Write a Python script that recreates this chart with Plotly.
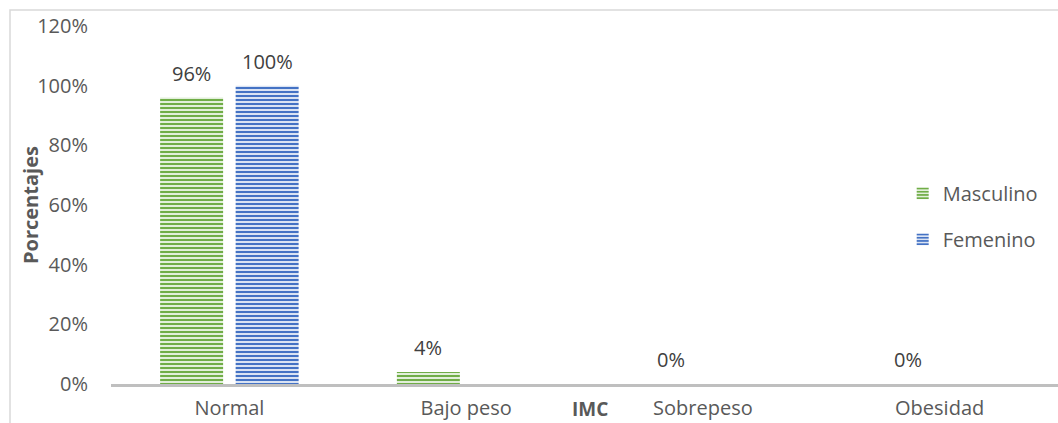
import plotly.graph_objects as go

# IMC categories and share of each group (fractions)
categorias = ["Normal", "Bajo peso", "Sobrepeso", "Obesidad"]
masculino = [0.96, 0.04, 0.00, 0.00]
femenino = [1.00, None, None, None]
y_ticks = [0, 0.2, 0.4, 0.6, 0.8, 1.0, 1.2]
y_ticklabels = ["0%", "20%", "40%", "60%", "80%", "100%", "120%"]

W, H = 1058, 423
M_L, M_R, M_T, M_B = 111, 0, 26, 39
BARGAP, GROUPGAP = 0.362, 0.166

FONT = "Open Sans"
GRAY = "#595959"
LABEL = "#404040"

series = [
    ("Masculino", masculino, "#70ad47", "#e2efda"),
    ("Femenino", femenino, "#4472c4", "#dae3f3"),
]

fig = go.Figure()
for i, (name, vals, fg, bg) in enumerate(series):
    fig.add_trace(go.Bar(
        name=name, x=categorias, y=vals, legendgroup=name,
        marker=dict(color=bg, line=dict(width=0),
                    pattern=dict(shape="-", fgcolor=fg, bgcolor=bg,
                                 size=4, solidity=0.5, fillmode="replace")),
        hoverinfo="skip",
    ))

# value labels placed over each bar slot
plot_w = W - M_L - M_R
plot_h = H - M_T - M_B
slot_px = plot_w / len(categorias) * (1 - BARGAP) / len(series)
annotations = []
for i, (name, vals, fg, bg) in enumerate(series):
    shift = (i - (len(series) - 1) / 2) * slot_px
    for cat, v in zip(categorias, vals):
        if v is None:
            continue
        annotations.append(dict(
            x=cat, y=v, xref="x", yref="y", text=f"{v:.0%}",
            showarrow=False, xanchor="center", yanchor="bottom",
            xshift=shift + (6 if v == 0 else 0), yshift=9,
            font=dict(family=FONT, size=20, color=LABEL),
        ))

# axis titles
annotations.append(dict(
    x=0.5, y=0, xref="paper", yref="paper", text="<b>IMC</b>",
    showarrow=False, xanchor="center", yanchor="middle",
    xshift=5, yshift=-25, font=dict(family=FONT, size=19, color=GRAY),
))
annotations.append(dict(
    x=(30 - M_L) / plot_w, y=0.5, xref="paper", yref="paper",
    text="<b>Porcentajes</b>", textangle=-90,
    showarrow=False, xanchor="center", yanchor="middle",
    font=dict(family=FONT, size=20, color=GRAY),
))

fig.update_layout(
    width=W, height=H,
    margin=dict(l=M_L, r=M_R, t=M_T, b=M_B, pad=0, autoexpand=False),
    paper_bgcolor="white", plot_bgcolor="white",
    barmode="group", bargap=BARGAP, bargroupgap=GROUPGAP,
    font=dict(family=FONT, size=20, color=GRAY),
    showlegend=True,
    legend=dict(x=0.836, y=0.587, xanchor="left", yanchor="top",
                font=dict(family=FONT, size=20, color=GRAY),
                tracegroupgap=17, bgcolor="rgba(0,0,0,0)",
                itemwidth=30),
    annotations=annotations,
    shapes=[dict(type="rect", xref="paper", yref="paper",
                 x0=-101 / plot_w, x1=1.05, y0=-0.2, y1=1 + 16 / plot_h,
                 line=dict(color="#d9d9d9", width=1.5), layer="below")],
)

fig.update_xaxes(
    automargin=False,
    showline=True, linecolor="#bfbfbf", linewidth=3,
    showgrid=False, zeroline=False, ticks="",
    ticklabelstandoff=4,
    tickfont=dict(family=FONT, size=20, color=GRAY),
)
fig.update_yaxes(
    automargin=False,
    range=[0, 1.2], tickvals=y_ticks, ticktext=y_ticklabels,
    showgrid=False, zeroline=False, showline=False, ticks="",
    ticklabelstandoff=22,
    tickfont=dict(family=FONT, size=20, color=GRAY),
)

fig.write_html("out.html")
